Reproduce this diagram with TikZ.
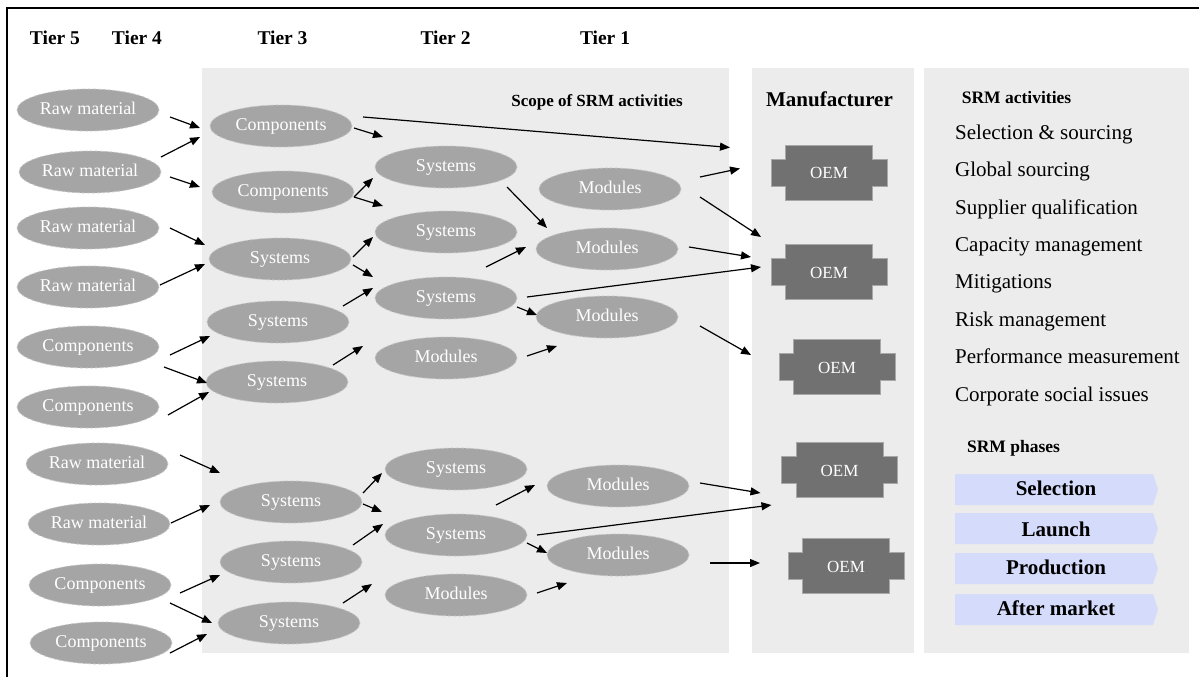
\documentclass[tikz,border=0pt]{standalone}
\usepackage{fontspec}
\setmainfont{Liberation Serif}
\usetikzlibrary{arrows.meta,shapes.geometric}

\definecolor{panel}{HTML}{ECECEC}
\definecolor{ellfill}{HTML}{A5A5A5}
\definecolor{ellline}{HTML}{C6C6C6}
\definecolor{oemfill}{HTML}{717171}
\definecolor{oemline}{HTML}{A8A8A8}
\definecolor{phasefill}{HTML}{D5DBFB}

\tikzset{
  part/.style={ellipse, fill=ellfill, draw=ellline, densely dashed, line width=0.8pt,
    minimum width=142pt, minimum height=42pt, inner sep=0pt, text=white,
    font=\fontsize{18}{18}\selectfont, text height=12pt, text depth=4pt},
  flow/.style={-{Triangle[length=10pt,width=8pt]}, line width=1.2pt, black},
  tierlabel/.style={anchor=base, inner sep=0pt, font=\fontsize{19.5}{20}\selectfont\bfseries},
  headlabel/.style={anchor=base, inner sep=0pt, font=\fontsize{17.5}{18}\selectfont\bfseries},
  bighead/.style={anchor=base, inner sep=0pt, font=\fontsize{21}{22}\selectfont\bfseries},
  activity/.style={anchor=base west, inner sep=0pt, font=\fontsize{21}{22}\selectfont},
  oemlabel/.style={minimum width=116pt, minimum height=55pt, inner sep=0pt, text=white,
    font=\fontsize{17}{17}\selectfont, text height=12pt, text depth=0pt},
  phaselabel/.style={anchor=base, inner sep=0pt, font=\fontsize{21}{22}\selectfont\bfseries},
}

% arrow between two named nodes, each end offset from the node centre
\newcommand{\flowlink}[6]{%
  \draw[flow] ([shift={(#2,#3)}]#1.center) -- ([shift={(#5,#6)}]#4.center);}

% OEM block: a wide band across a taller box
\newcommand{\oemblock}[3]{%
  \filldraw[fill=oemfill, draw=oemline, line width=0.8pt, shift={(#2,#3)}]
    (-43.5,-27.5) -- (43.5,-27.5) -- (43.5,-13.5) -- (58,-13.5) -- (58,13.5)
    -- (43.5,13.5) -- (43.5,27.5) -- (-43.5,27.5) -- (-43.5,13.5) -- (-58,13.5)
    -- (-58,-13.5) -- (-43.5,-13.5) -- cycle;
  \node[oemlabel] (#1) at (#2,#3) {OEM};}

% SRM phase bar: name, bar centre y, text baseline y, text
\newcommand{\phasebar}[4]{%
  \fill[phasefill, shift={(0,#2)}] (955,-15.5) -- (1153,-15.5) -- (1158,0)
    -- (1153,15.5) -- (955,15.5) -- cycle;
  \node[phaselabel] (#1) at (1056,#3) {#4};}

\begin{document}
\begin{tikzpicture}[x=1pt,y=-1pt]
\useasboundingbox (0,0) rectangle (1199,677);
\fill[white] (0,0) rectangle (1199,677);

% frame
\draw[line width=1.6pt] (7,677) -- (7,8) -- (1199,8);

% panels
\fill[panel] (202,68) rectangle (729,653);
\fill[panel] (752,68) rectangle (914,653);
\fill[panel] (924,68) rectangle (1189,653);

% tier headings
\node[tierlabel] (h5) at (55,45) {Tier 5};
\node[tierlabel] (h4) at (137,45) {Tier 4};
\node[tierlabel] (h3) at (282.5,45) {Tier 3};
\node[tierlabel] (h2) at (445.5,45) {Tier 2};
\node[tierlabel] (h1) at (605,45) {Tier 1};

\node[anchor=base, inner sep=0pt, font=\fontsize{17}{18}\selectfont\bfseries] (scope) at (597,106) {Scope of SRM activities};
\node[bighead] (manu) at (829.5,106) {Manufacturer};
\node[headlabel] (acts) at (1016.5,103) {SRM activities};

% tier 5/4 parts
\node[part] (l1) at (88,110) {Raw material};
\node[part] (l2) at (90,172) {Raw material};
\node[part] (l3) at (88,228) {Raw material};
\node[part] (l4) at (88,287) {Raw material};
\node[part] (l5) at (88,347) {Components};
\node[part] (l6) at (88,407) {Components};
\node[part] (l7) at (97,464) {Raw material};
\node[part] (l8) at (99,524) {Raw material};
\node[part] (l9) at (100,585) {Components};
\node[part] (l10) at (101,643) {Components};

% tier 3 parts
\node[part] (t1) at (281,126) {Components};
\node[part] (t2) at (283,192) {Components};
\node[part] (t3) at (280,259) {Systems};
\node[part] (t4) at (278,322) {Systems};
\node[part] (t5) at (277,382) {Systems};
\node[part] (t6) at (291,502) {Systems};
\node[part] (t7) at (291,562) {Systems};
\node[part] (t8) at (289,623) {Systems};

% tier 2 parts
\node[part] (s1) at (446,167) {Systems};
\node[part] (s2) at (446,232) {Systems};
\node[part] (s3) at (446,298) {Systems};
\node[part] (s4) at (446,358) {Modules};
\node[part] (s5) at (456,469) {Systems};
\node[part] (s6) at (456,535) {Systems};
\node[part] (s7) at (456,595) {Modules};

% tier 1 parts
\node[part] (m1) at (610,189) {Modules};
\node[part] (m2) at (607,249) {Modules};
\node[part] (m3) at (607,317) {Modules};
\node[part] (m4) at (618,486) {Modules};
\node[part] (m5) at (618,555) {Modules};

% manufacturers
\oemblock{o1}{829}{172.5}
\oemblock{o2}{829}{272}
\oemblock{o3}{837}{367}
\oemblock{o4}{839.5}{470}
\oemblock{o5}{846}{566}

% SRM activities
\node[activity] (a1) at (955,139) {Selection \& sourcing};
\node[activity] (a2) at (955,176.5) {Global sourcing};
\node[activity] (a3) at (955,214) {Supplier qualification};
\node[activity] (a4) at (955,251) {Capacity management};
\node[activity] (a5) at (955,288.5) {Mitigations};
\node[activity] (a6) at (955,326) {Risk management};
\node[activity] (a7) at (955,363.5) {Performance measurement};
\node[activity] (a8) at (955,401) {Corporate social issues};

% SRM phases
\node[headlabel] (phases) at (1013.5,452) {SRM phases};
\phasebar{p1}{489.5}{495}{Selection}
\phasebar{p2}{528.5}{536}{Launch}
\phasebar{p3}{568.5}{574}{Production}
\phasebar{p4}{609.5}{615}{After market}

% tier 5/4 -> tier 3
\flowlink{l1}{82}{7}{t1}{-81}{2}
\flowlink{l2}{71}{-15}{t1}{-81}{11}
\flowlink{l2}{80}{5}{t2}{-83}{-5}
\flowlink{l3}{82}{0}{t3}{-75}{-14}
\flowlink{l4}{72}{-2}{t3}{-75}{5}
\flowlink{l5}{82}{8}{t4}{-68}{14}
\flowlink{l5}{76}{20}{t5}{-70}{1}
\flowlink{l6}{80}{8}{t5}{-68}{10}
\flowlink{l7}{83}{-9}{t6}{-71}{-29}
\flowlink{l8}{72}{-1}{t6}{-81}{3}
\flowlink{l9}{80}{8}{t7}{-71}{13}
\flowlink{l9}{70}{18}{t8}{-77}{0}
\flowlink{l10}{69}{10}{t8}{-82}{11}

% tier 3 -> tier 2
\flowlink{t1}{73}{2}{s1}{-63}{-30}
\flowlink{t2}{71}{5}{s1}{-73}{11}
\flowlink{t2}{71}{5}{s2}{-63}{-26}
\flowlink{t3}{73}{-2}{s2}{-73}{5}
\flowlink{t3}{73}{6}{s3}{-73}{-21}
\flowlink{t4}{65}{-16}{s3}{-73}{-10}
\flowlink{t5}{56}{-17}{s4}{-83}{-12}
\flowlink{t6}{72}{-9}{s5}{-74}{4}
\flowlink{t6}{72}{2}{s6}{-74}{-23}
\flowlink{t7}{62}{-17}{s6}{-73}{-11}
\flowlink{t8}{54}{-20}{s7}{-84}{-11}

% tier 2 -> tier 1
\flowlink{s1}{61}{20}{m2}{-60}{-21}
\flowlink{s3}{40}{-31}{m2}{-81}{-2}
\flowlink{s3}{71}{9}{m3}{-70}{-2}
\flowlink{s4}{81}{-2}{m3}{-50}{29}
\flowlink{s6}{40}{-30}{m4}{-83}{-1}
\flowlink{s6}{71}{8}{m5}{-71}{-2}
\flowlink{s7}{81}{-2}{m5}{-51}{28}

% direct deliveries to manufacturers
\flowlink{t1}{82}{-9}{o1}{-99}{-25}
\flowlink{s3}{81}{-1}{o2}{-68}{-5}
\flowlink{s6}{81}{0}{o4}{-68}{35}

% tier 1 -> manufacturers
\flowlink{m1}{90}{-12}{o1}{-89}{-4}
\flowlink{m1}{90}{8}{o2}{-68}{-35}
\flowlink{m2}{82}{-2}{o2}{-78}{-15}
\flowlink{m3}{93}{9}{o3}{-86}{-12}
\flowlink{m4}{82}{-3}{o4}{-79}{23}
\flowlink{m5}{92}{8}{o5}{-86}{-3}
\end{tikzpicture}
\end{document}
